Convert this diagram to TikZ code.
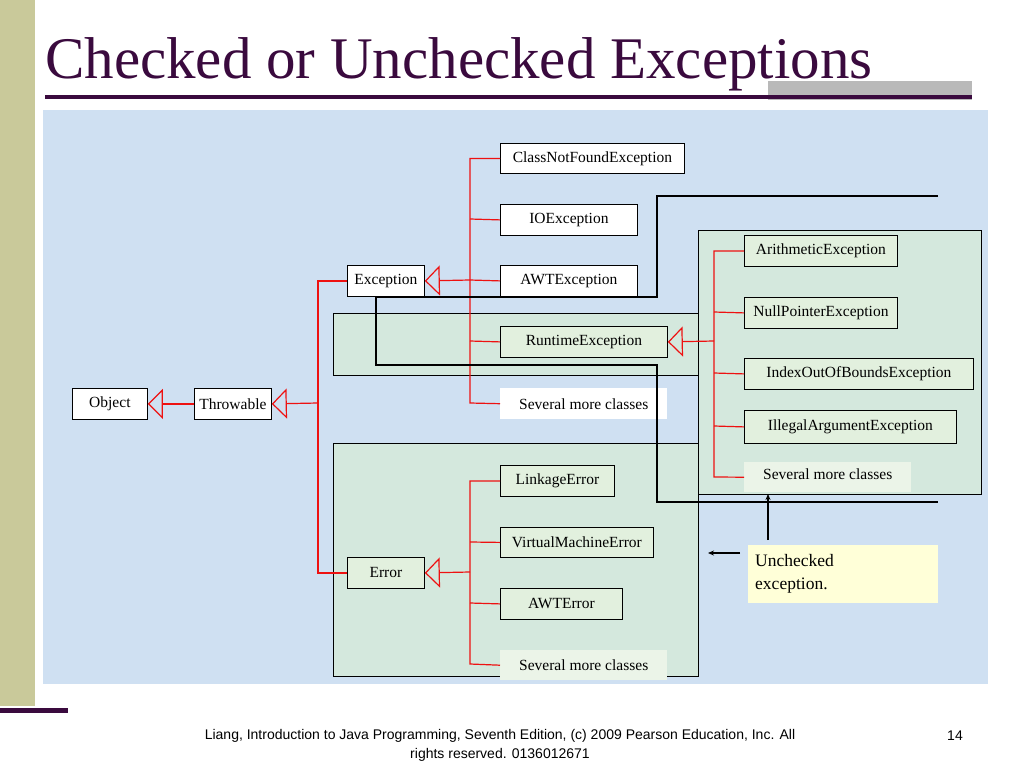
\documentclass[tikz,border=0pt]{standalone}
\usepackage{fontspec}
\setmainfont{Liberation Serif}
\newfontfamily\foot{Liberation Sans}
\usetikzlibrary{arrows.meta,positioning}
\definecolor{olive}{HTML}{C9C99A}
\definecolor{ttl}{HTML}{3A0A3E}
\definecolor{bgblue}{HTML}{CFE0F2}
\definecolor{grn}{HTML}{D6EAD8}
\definecolor{grnbox}{HTML}{E2F0DE}
\definecolor{paleyel}{HTML}{FFFFD8}
\definecolor{ared}{HTML}{EE1111}
\begin{document}
\begin{tikzpicture}[x=1pt,y=-1pt,
  cls/.style={draw=black,fill=white,line width=0.8pt,anchor=north west,inner sep=0pt,font=\fontsize{15.5}{18}\selectfont},
  gcls/.style={cls,fill=grnbox},
  plain/.style={anchor=north west,inner sep=0pt,font=\fontsize{15.5}{18}\selectfont,fill=white},
  gplain/.style={plain,fill=grnbox!70!white},
  red/.style={draw=ared,line width=1.2pt},
  inh/.style={red,-{Triangle[open,length=15pt,width=30pt,line width=1.2pt]}},
  blk/.style={draw=black,line width=1.2pt},
  region/.style={draw=black,line width=1pt,fill=grn,fill opacity=0.8}]
\useasboundingbox (0,0) rectangle (1024,768);
\fill[white] (0,0) rectangle (1024,768);
\fill[olive] (0,0) rectangle (35,706);
\fill[ttl] (0,708) rectangle (68,713);
\node[anchor=base west,text=ttl,font=\fontsize{59}{62}\selectfont,inner sep=0] (title) at (45,78) {Checked or Unchecked Exceptions};
\fill[gray!55] (768,81) rectangle (972,100);
\fill[ttl] (45,95) rectangle (972,99);
\fill[bgblue] (43,110) rectangle (988,684);
% regions
\path[region] (333,313) rectangle (698,375);
\path[region] (333,443) rectangle (698,676);
\path[region] (698,230) rectangle (981,494);
% boxes
\node[cls,minimum width=184,minimum height=30] (cnf) at (500,143) {ClassNotFoundException};
\node[cls,minimum width=137,minimum height=31] (io) at (500,204) {IOException};
\node[cls,minimum width=137,minimum height=31] (awt) at (500,265) {AWTException};
\node[gcls,minimum width=167,minimum height=31] (rt) at (500,326) {RuntimeException};
\node[plain,minimum width=167,minimum height=31] (sm1) at (500,388) {Several more classes};
\node[cls,minimum width=77,minimum height=31] (exc) at (347,265) {Exception};
\node[cls,minimum width=75,minimum height=31] (obj) at (72,388) {Object};
\node[cls,minimum width=77,minimum height=31] (thr) at (194,388) {Throwable};
\node[gcls,minimum width=114,minimum height=31] (link) at (500,465) {LinkageError};
\node[gcls,minimum width=153,minimum height=30] (vm) at (500,527) {VirtualMachineError};
\node[gcls,minimum width=77,minimum height=31] (err) at (347,557) {Error};
\node[gcls,minimum width=122,minimum height=31] (awte) at (500,588) {AWTError};
\node[gplain,minimum width=167,minimum height=30] (sm2) at (500,650) {Several more classes};
\node[gcls,minimum width=153,minimum height=31] (ari) at (744,235) {ArithmeticException};
\node[gcls,minimum width=153,minimum height=31] (np) at (744,297) {NullPointerException};
\node[gcls,minimum width=229,minimum height=31] (ioob) at (744,358) {IndexOutOfBoundsException};
\node[gcls,minimum width=212,minimum height=33] (ill) at (744,410) {IllegalArgumentException};
\node[gplain,minimum width=167,minimum height=30,anchor=north west] (sm3) at (744,462) {\raisebox{6pt}{Several more classes}};
\node[anchor=north west,fill=paleyel,minimum width=190,minimum height=58,inner sep=0pt,align=left,font=\fontsize{17.5}{23}\selectfont,text width=176,inner xsep=7pt] (unc) at (748,545) {Unchecked\\exception.};
% red inheritance lines
\draw[inh] (thr.west) -- (obj.east);
\coordinate (j1) at (318,403);
\draw[inh] (j1) -- (thr.east);
\draw[red] (exc.west) -| (318,403) |- (err.west);
\coordinate (j2) at (470,280);
\draw[inh] (j2) -- (exc.east);
\draw[red] (cnf.west) -| (470,403) -- (sm1.west);
\draw[red] (470,219) -- (io.west) (470,280) -- (awt.west) (470,341) -- (rt.west);
\coordinate (j3) at (470,572);
\draw[inh] (j3) -- (err.east);
\draw[red] (link.west) -| (470,664) -- (sm2.west);
\draw[red] (470,542) -- (vm.west) (470,603) -- (awte.west);
\coordinate (j4) at (714,341);
\draw[inh] (j4) -- (rt.east);
\draw[red] (ari.west) -| (714,477) -- (sm3.west);
\draw[red] (714,312) -- (np.west) (714,373) -- (ioob.west) (714,426) -- (ill.west);
% checked outline
\draw[blk] (938,196) -- (657,196) -- (657,297) -- (376,297) -- (376,365) -- (657,365) -- (657,502) -- (938,502);
% arrows
\coordinate (a1) at (768,494);
\coordinate (a2) at (708,553);
\coordinate (a3) at (740,553);
\draw[blk,-{Stealth[length=6pt,width=5pt]}] (768,540) -- (a1);
\draw[blk,-{Stealth[length=6pt,width=5pt]}] (a3) -- (a2);
\node[anchor=north,align=center,font=\foot\fontsize{14}{19}\selectfont,inner sep=0] (ft) at (500,729) {Liang, Introduction to Java Programming, Seventh Edition, (c) 2009 Pearson Education, Inc. All\\rights reserved. 0136012671};
\node[anchor=north,font=\foot\fontsize{14}{19}\selectfont,inner sep=0] (pg) at (955,731) {14};
\end{tikzpicture}
\end{document}
